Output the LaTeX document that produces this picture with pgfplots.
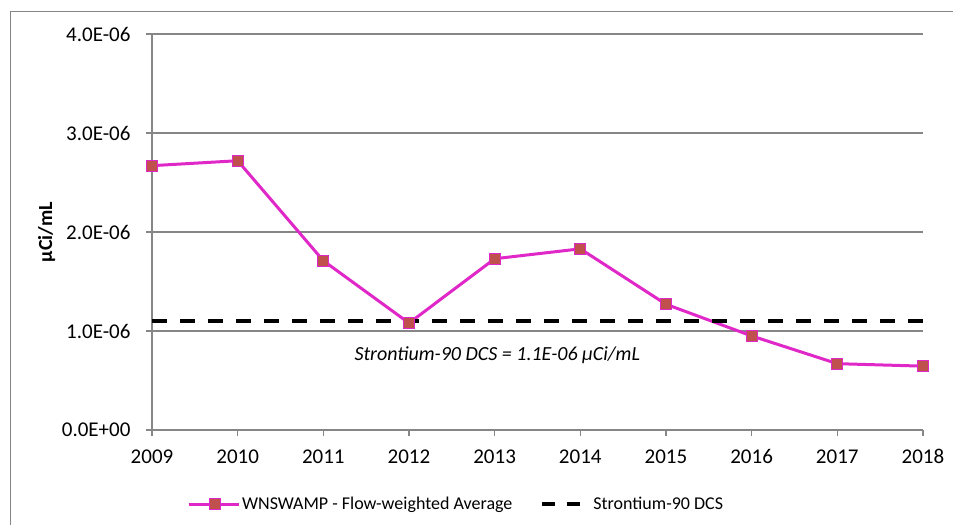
\documentclass[border=0pt]{standalone}
\usepackage{fontspec}
\setmainfont{Carlito}
\usepackage{pgfplots}
\pgfplotsset{compat=1.18}

\definecolor{linemag}{RGB}{224,40,200}
\definecolor{markred}{RGB}{192,80,77}
\definecolor{gridgray}{RGB}{134,134,134}

\pgfplotsset{
    serieslegend/.style={legend image code/.code={
        \draw[mark repeat=2, mark phase=2, ##1] plot coordinates {(0bp,0bp) (26bp,0bp) (50bp,0bp)};}},
    dcslegend/.style={legend image code/.code={
        \draw[##1, dash pattern=on 13bp off 12bp] (0bp,0bp) -- (38bp,0bp);
        \draw[opacity=0] (38bp,0bp) -- (47bp,0bp);}},
}

\begin{document}
\begin{tikzpicture}[x=1bp,y=1bp]
\useasboundingbox (0,0) rectangle (953,-525);
% outer chart frame (left and top only visible)
\draw[gridgray, line width=1bp] (10.5,-525) -- (10.5,-11.5) -- (953,-11.5);

\begin{axis}[
    at={(152bp,-430bp)}, anchor=south west,
    scale only axis,
    width=771bp, height=396bp,
    xmin=2009, xmax=2018,
    ymin=0, ymax=4e-6,
    axis x line=bottom, axis y line=left,
    axis line style={gridgray, line width=1.3bp, -},
    xtick={2009,...,2018},
    xticklabels={2009,2010,2011,2012,2013,2014,2015,2016,2017,2018},
    ytick={0,1e-6,2e-6,3e-6,4e-6},
    yticklabels={0.0E+00,1.0E-06,2.0E-06,3.0E-06,4.0E-06},
    scaled y ticks=false,
    tick style={gridgray, line width=1.3bp},
    major tick length=6bp,
    xtick align=outside, ytick align=outside,
    ymajorgrids, grid style={gridgray, line width=1.3bp},
    ticklabel style={font=\fontsize{21bp}{25bp}\selectfont},
    xticklabel style={yshift=-10bp},
    yticklabel style={xshift=-12bp},
    ylabel={\textbf{µCi/mL}},
    ylabel style={font=\fontsize{20bp}{24bp}\selectfont, at={(axis description cs:-0.121,0.5)}},
    legend columns=2,
    legend style={draw=none, fill=none,
        at={(axis description cs:0.0415,-0.187)}, anchor=west,
        font=\fontsize{18bp}{22bp}\selectfont,
        /tikz/every even column/.append style={column sep=26bp}},
    clip=false,
]
\addplot[color=linemag, line width=3bp, mark=square*,
    mark size=5.5bp,
    mark options={fill=markred, draw=linemag, line width=1bp, solid},
    serieslegend]
    coordinates {
        (2009, 2.67e-6)
        (2010, 2.72e-6)
        (2011, 1.71e-6)
        (2012, 1.08e-6)
        (2013, 1.73e-6)
        (2014, 1.83e-6)
        (2015, 1.27e-6)
        (2016, 0.95e-6)
        (2017, 0.67e-6)
        (2018, 0.645e-6)
    };
\addlegendentry{WNSWAMP - Flow-weighted Average}

\addplot[color=black, line width=4bp, dash pattern=on 15bp off 13bp, dcslegend]
    coordinates {(2009, 1.1e-6) (2018, 1.1e-6)};
\addlegendentry{Strontium-90 DCS}

\node[font=\fontsize{20bp}{24bp}\selectfont\itshape] at (axis cs:2013.03,0.76e-6)
    {Strontium-90 DCS = 1.1E-06 µCi/mL};
\end{axis}
\end{tikzpicture}
\end{document}
